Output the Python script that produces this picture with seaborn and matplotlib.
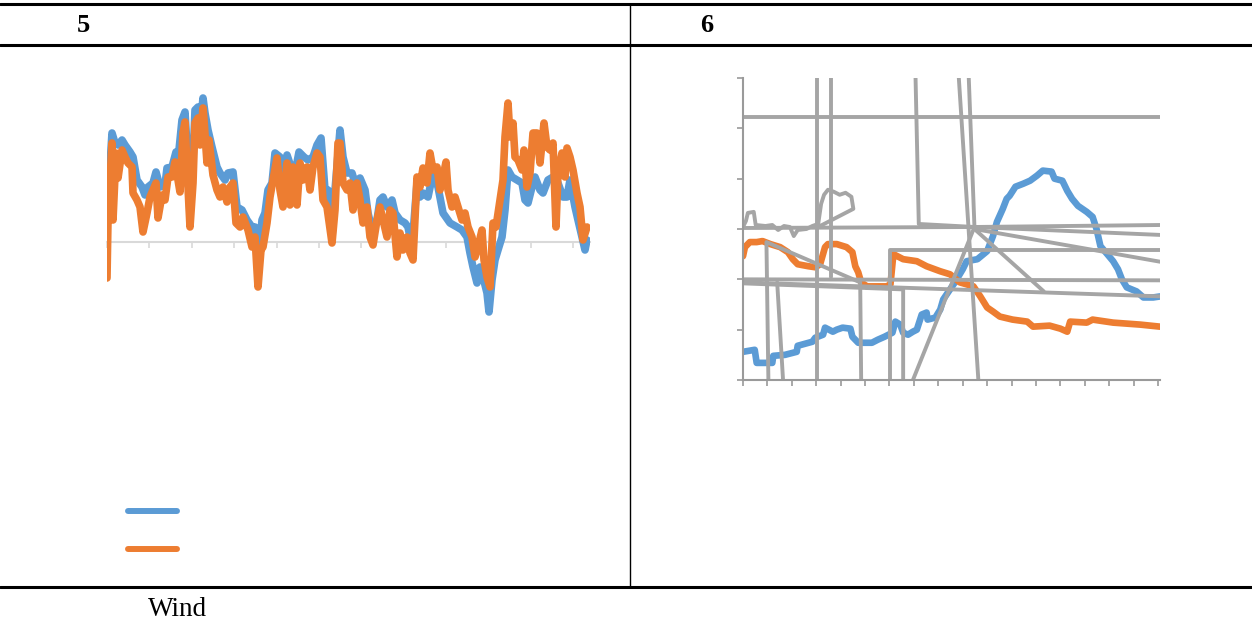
import matplotlib

matplotlib.use("Agg")
import matplotlib.pyplot as plt
import numpy as np
import pandas as pd
import seaborn as sns
from matplotlib.lines import Line2D

BLUE = "#5B9BD5"
ORANGE = "#ED7D31"
GREY = "#A5A5A5"

# ---- panel 5: wind series (x = sample position, y = value around zero line)
wind_blue_x = [0, 5, 8, 11, 15, 18, 23, 26, 30, 35, 38, 41, 46, 49, 53, 58, 60, 65, 69, 71,
               75, 78, 80, 83, 86, 88, 91, 93, 96, 98, 101, 105, 110, 113, 118, 121, 126, 130,
               135, 140, 145, 148, 151, 155, 158, 161, 165, 168, 173, 176, 180, 185, 188, 192,
               197, 201, 206, 210, 214, 218, 221, 225, 228, 233, 236, 240, 245, 248, 253, 258,
               261, 265, 270, 273, 276, 280, 285, 288, 293, 298, 301, 305, 310, 313, 316, 321,
               326, 331, 336, 343, 350, 355, 360, 363, 366, 370, 373, 376, 380, 382, 385, 388,
               391, 395, 398, 401, 405, 410, 415, 418, 421, 425, 428, 433, 436, 441, 446, 451,
               456, 460, 463, 468, 471, 475, 478, 480]
wind_blue_y = [27, 109, 99, 97, 102, 97, 90, 85, 62, 55, 47, 55, 59, 70, 55, 57, 74, 75, 90, 82,
               122, 130, 95, 27, 82, 132, 135, 112, 144, 129, 112, 95, 75, 69, 62, 69, 70, 35,
               32, 22, 15, 15, -25, 22, 29, 52, 59, 89, 85, 62, 87, 72, 69, 90,
               85, 82, 85, 97, 104, 52, 52, 5, 52, 112, 85, 69, 69, 59, 64, 52,
               29, 12, 22, 42, 45, 35, 42, 29, 22, 19, 15, -5, 59, 45, 49, 45,
               69, 55, 29, 19, 15, 12, 5, -11, -25, -41, -25, -35, -51, -70, -38, -18,
               -8, 5, 32, 72, 65, 62, 59, 42, 39, 55, 65, 52, 49, 62, 65, 59,
               45, 45, 62, 35, 22, 5, -8, 2]

wind_orange_x = [0, 1, 5, 6, 9, 11, 15, 18, 21, 25, 26, 30, 33, 36, 40, 43, 46, 49, 51, 55,
                 58, 61, 65, 68, 71, 73, 76, 78, 80, 83, 86, 88, 91, 93, 96, 97, 100, 102, 106,
                 110, 113, 116, 120, 123, 126, 129, 133, 136, 141, 145, 148, 151, 154, 156, 160,
                 163, 166, 170, 173, 176, 180, 183, 186, 190, 193, 196, 200, 203, 206, 210, 213,
                 216, 220, 225, 228, 231, 233, 236, 240, 243, 246, 250, 253, 256, 260, 263, 266,
                 270, 273, 276, 280, 283, 286, 290, 293, 296, 300, 303, 306, 310, 313, 316, 320,
                 323, 326, 330, 333, 336, 339, 341, 345, 348, 351, 355, 358, 361, 365, 368, 371,
                 375, 377, 380, 383, 386, 389, 392, 396, 398, 401, 403, 406, 408, 411, 415, 417,
                 420, 423, 426, 430, 433, 437, 440, 443, 446, 449, 451, 455, 458, 460, 463, 466,
                 470, 473, 476, 480]
wind_orange_y = [-36, 22, 99, 22, 89, 64, 92, 85, 79, 75, 49, 42, 35, 10, 29, 45, 52, 59, 24, 47,
                 42, 65, 65, 80, 62, 50, 109, 120, 75, 15, 59, 119, 124, 97, 134, 122, 79, 102, 67,
                 52, 45, 55, 40, 55, 59, 19, 15, 25, 12, -5, 5, -45, -8, -5, 19,
                 45, 62, 84, 52, 35, 79, 37, 75, 37, 79, 62, 75, 52, 75, 89, 85,
                 42, 35, -1, 32, 99, 99, 59, 52, 59, 32, 59, 42, 19, 35, 5, -3,
                 22, 35, 22, 5, 32, 29, -15, 9, -8, 5, -11, -18, 65, 55, 74, 59,
                 89, 72, 75, 52, 65, 80, 52, 35, 45, 35, 22, 29, 15, 5, -15, -5,
                 12, -18, -35, -45, 19, 15, 35, 62, 105, 139, 105, 119, 85, 82, 72, 92,
                 55, 69, 109, 109, 79, 119, 95, 92, 99, 15, 69, 89, 65, 94, 85, 72,
                 49, 35, 2, 15]

# ---- panel 6: two smooth series plus a broken grey series
p6_blue_x = [0, 12, 14, 30, 31, 43, 55, 56, 71, 74, 82, 84, 92, 96, 102, 110, 112, 118, 132,
             138, 145, 153, 156, 161, 164, 169, 174, 178, 183, 188, 189, 197, 202, 205, 212,
             217, 225, 229, 240, 250, 256, 260, 266, 270, 273, 279, 287, 294, 301, 307, 316,
             319, 327, 332, 337, 343, 352, 358, 362, 366, 373, 379, 384, 388, 393, 403, 410,
             420, 427]
p6_blue_y = [28, 30, 17, 17, 24, 25, 28, 34, 38, 42, 45, 52, 48, 50, 52, 51, 43, 37, 37,
             40, 43, 47, 58, 55, 47, 45, 48, 50, 65, 67, 60, 62, 70, 80, 90,
             97, 110, 118, 120, 128, 143, 157, 170, 180, 183, 192, 195, 198, 203, 208, 207,
             200, 198, 188, 180, 173, 167, 162, 150, 133, 125, 118, 110, 100, 92, 88, 82,
             82, 83]

p6_orange_x = [0, 2, 7, 14, 20, 28, 38, 46, 51, 56, 67, 74, 79, 84, 87, 96, 106, 112, 115,
               118, 121, 127, 147, 151, 154, 158, 164, 178, 188, 202, 212, 222, 236, 243, 250,
               256, 263, 276, 291, 297, 314, 325, 332, 335, 352, 358, 379, 407, 427]
p6_orange_y = [123, 132, 137, 137, 138, 135, 132, 127, 120, 115, 113, 112, 115, 132, 135, 135,
               132, 127, 113, 107, 97, 93, 93, 95, 125, 123, 120, 118, 113, 108, 105, 97, 93,
               83, 72, 68, 63, 60, 58, 53, 54, 51, 48, 58, 57, 60, 57, 55, 53]

# grey series: one entry per broken piece
grey_pieces = [
    ([0, 430], [261, 261]),
    ([76, 76], [0, 330]),
    ([90, 90], [102, 330]),
    ([176, 180, 237], [330, 155, 152]),
    ([219, 241], [330, 0]),
    ([230, 237], [330, 152]),
    ([237, 430], [152, 154]),
    ([237, 430], [152, 144]),
    ([237, 430], [150, 117]),
    ([237, 308], [150, 88]),
    ([237, 174], [152, 0]),
    ([151, 151, 430], [0, 129, 129]),
    ([0, 430], [100, 99]),
    ([0, 430], [97, 83]),
    ([0, 164, 164], [96, 90, 0]),
    ([26, 24, 120, 121], [0, 137, 97, 0]),
    ([35, 41], [97, 0]),
    ([0, 3, 5, 11, 13, 23, 30, 36, 42, 48, 52, 56, 65, 71, 77, 80, 83, 87, 93, 99, 105,
      111, 113, 77],
     [152, 158, 166, 167, 154, 153, 154, 149, 153, 152, 143, 149, 150, 153, 155, 175, 184,
      189, 187, 184, 186, 182, 170, 152]),
    ([0, 237], [151, 152]),
]

W, H = 1252, 627


def px_box(left, top, right, bottom):
    return [left / W, 1 - bottom / H, (right - left) / W, (bottom - top) / H]


def main() -> None:
    sns.set_style("white")
    fig = plt.figure(figsize=(W / 100, H / 100), dpi=100)

    # ---------- panel 5
    ax5 = fig.add_axes(px_box(107, 92, 590, 322))
    d_blue = pd.DataFrame({"x": wind_blue_x, "y": wind_blue_y})
    d_orange = pd.DataFrame({"x": wind_orange_x, "y": wind_orange_y})
    sns.lineplot(data=d_blue, x="x", y="y", sort=False, estimator=None, color=BLUE,
                 lw=5.5, ax=ax5, solid_joinstyle="round", solid_capstyle="round")
    sns.lineplot(data=d_orange, x="x", y="y", sort=False, estimator=None, color=ORANGE,
                 lw=5.5, ax=ax5, solid_joinstyle="round", solid_capstyle="round")
    ax5.set_xlim(0, 483)
    ax5.set_ylim(-80, 150)
    for side in ["left", "right", "top"]:
        ax5.spines[side].set_visible(False)
    ax5.spines["bottom"].set_position(("data", 0))
    ax5.spines["bottom"].set_color("#D9D9D9")
    ax5.spines["bottom"].set_linewidth(1.5)
    ax5.spines["bottom"].set_zorder(0)
    ax5.set_xticks(np.arange(0, 483, 42.4))
    ax5.set_yticks([])
    ax5.tick_params(axis="x", direction="out", length=4, width=1.2, color="#D9D9D9",
                    labelbottom=False, bottom=True)
    ax5.set_xlabel("")
    ax5.set_ylabel("")
    ax5.patch.set_alpha(0)

    handles = [
        Line2D([], [], color=BLUE, lw=4.3, solid_capstyle="round"),
        Line2D([], [], color=ORANGE, lw=4.3, solid_capstyle="round"),
    ]
    fig.legend(handles=handles, labels=[" ", " "], loc="upper left",
               bbox_to_anchor=(128 / W, 1 - 503 / H), frameon=False, fontsize=14,
               handlelength=2.53, handletextpad=0, borderpad=0, borderaxespad=0,
               labelspacing=0.95)

    # ---------- panel 6
    ax6 = fig.add_axes(px_box(743, 78, 1160, 380))
    sns.lineplot(x=p6_blue_x, y=p6_blue_y, sort=False, estimator=None, color=BLUE,
                 lw=4.8, ax=ax6, solid_joinstyle="round")
    sns.lineplot(x=p6_orange_x, y=p6_orange_y, sort=False, estimator=None, color=ORANGE,
                 lw=4.8, ax=ax6, solid_joinstyle="round")
    rows = []
    for i, (xs, ys) in enumerate(grey_pieces):
        for x, y in zip(xs, ys):
            rows.append({"x": x, "y": y, "piece": i})
    grey = pd.DataFrame(rows)
    sns.lineplot(data=grey, x="x", y="y", units="piece", sort=False, estimator=None,
                 color=GREY, lw=2.8, ax=ax6)
    ax6.set_xlim(0, 427)
    ax6.set_ylim(0, 300)
    ax6.set_xticks(np.arange(0, 426, 25))
    ax6.set_yticks(np.arange(0, 301, 50))
    for side in ["right", "top"]:
        ax6.spines[side].set_visible(False)
    for side in ["left", "bottom"]:
        ax6.spines[side].set_color("#9A9A9A")
        ax6.spines[side].set_linewidth(1.5)
    ax6.tick_params(direction="out", length=4, width=1.2, color="#9A9A9A",
                    labelbottom=False, labelleft=False, bottom=True, left=True)
    ax6.set_xlabel("")
    ax6.set_ylabel("")
    ax6.patch.set_alpha(0)

    # ---------- table rules and captions
    def rule(x0, y0, x1, y1, lw):
        fig.add_artist(Line2D([x0 / W, x1 / W], [1 - y0 / H, 1 - y1 / H], color="black",
                              lw=lw, transform=fig.transFigure))

    rule(0, 4, W, 4, 2.2)
    rule(0, 45, W, 45, 2.2)
    rule(0, 587, W, 587, 2.2)
    rule(630, 4, 630, 587, 1.0)

    serif = ["Liberation Serif", "DejaVu Serif"]
    fig.text(83 / W, 1 - 26 / H, "5", ha="center", va="center", fontsize=19,
             fontweight="bold", family=serif, color="black")
    fig.text(707 / W, 1 - 26 / H, "6", ha="center", va="center", fontsize=19,
             fontweight="bold", family=serif, color="black")
    fig.text(148 / W, 1 - 610 / H, "Wind", ha="left", va="center", fontsize=19.5,
             family=serif, color="black")

    fig.savefig("out.png", dpi=100)
    plt.close(fig)


if __name__ == "__main__":
    main()
